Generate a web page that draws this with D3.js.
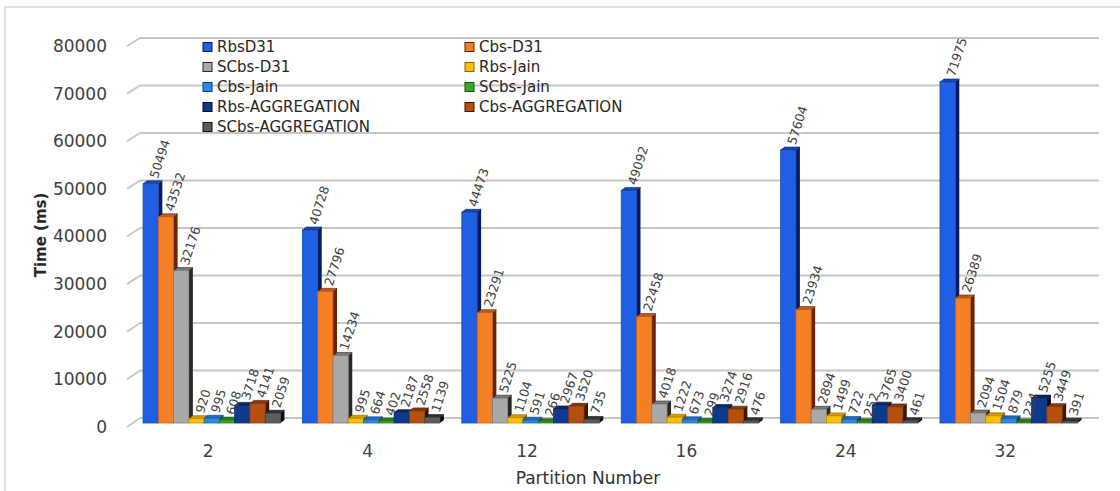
<!DOCTYPE html>
<html>
<head>
<meta charset="utf-8">
<script src="https://cdn.jsdelivr.net/npm/d3@7"></script>
<style>
  body { margin: 0; background: #fff; }
  text { font-family: "DejaVu Sans", sans-serif; }
</style>
</head>
<body>
<div class="chart"></div>
<script>
// partition counts on the x axis
const partitions = ["2", "4", "12", "16", "24", "32"]
const seriesNames = ["RbsD31", "Cbs-D31", "SCbs-D31", "Rbs-Jain", "Cbs-Jain", "SCbs-Jain",
                     "Rbs-AGGREGATION", "Cbs-AGGREGATION", "SCbs-AGGREGATION"]
// time (ms) per series, one value per partition
const rbsD31   = [50494, 40728, 44473, 49092, 57604, 71975]
const cbsD31   = [43532, 27796, 23291, 22458, 23934, 26389]
const scbsD31  = [32176, 14234, 5225, 4018, 2894, 2094]
const rbsJain  = [920, 995, 1104, 1222, 1499, 1504]
const cbsJain  = [995, 664, 591, 673, 722, 879]
const scbsJain = [608, 402, 266, 299, 252, 234]
const rbsAgg   = [3718, 2187, 2967, 3274, 3765, 5255]
const cbsAgg   = [4141, 2558, 3520, 2916, 3400, 3449]
const scbsAgg  = [2059, 1139, 735, 476, 461, 391]
const yTicks = [0, 10000, 20000, 30000, 40000, 50000, 60000, 70000, 80000]

const seriesValues = [rbsD31, cbsD31, scbsD31, rbsJain, cbsJain, scbsJain, rbsAgg, cbsAgg, scbsAgg]

// front / side / top colours for the 3d bars
const fronts = ["#1f5fe4", "#f57f25", "#a9a9a9", "#ffc000", "#2b8ae4", "#3aa822", "#0d3b8c", "#b5500f", "#5c5c5c"]
const sides  = ["#061a5c", "#6b2200", "#262626", "#8a6200", "#0c3c7c", "#145008", "#00091a", "#3d1500", "#0c0c0c"]
const tops   = ["#1848b4", "#c4581a", "#7a7a7a", "#d49c00", "#1d6cc2", "#2a8018", "#08296a", "#8a3a08", "#333333"]

const colourFront = d3.scaleOrdinal(seriesNames, fronts)
const colourSide = d3.scaleOrdinal(seriesNames, sides)
const colourTop = d3.scaleOrdinal(seriesNames, tops)

const width = 1120, height = 491
const depthX = 4, depthY = 3

const svg = d3.select(".chart").append("svg").attr("width", width).attr("height", height)

// outer chart border
svg.append("rect").attr("x", 5).attr("y", 7).attr("width", 1140).attr("height", 500)
   .attr("fill", "none").attr("stroke", "#d9d9d9").attr("stroke-width", 1.5)

// scales: front (labels), back wall (gridlines), bars (in between)
const yFront = d3.scaleLinear().domain([0, 80000]).range([427, 46])
const yBack = d3.scaleLinear().domain([0, 80000]).range([418, 38])
const yBar = d3.scaleLinear().domain([0, 80000]).range([423, 44])

const x0 = d3.scaleBand().domain(partitions).range([133.5, 1090]).paddingInner(0.119).paddingOuter(0.06)
const x1 = d3.scaleBand().domain(seriesNames).range([0, x0.bandwidth() - depthX + 1])

// gridlines with slanted floor edge
const grid = svg.append("g")
grid.selectAll(".slant").data(yTicks).enter().append("line")
    .attr("x1", 127).attr("x2", 140).attr("y1", d => yFront(d)).attr("y2", d => yBack(d))
    .attr("stroke", "#c6c6c6").attr("stroke-width", 2)
grid.selectAll(".wall").data(yTicks).enter().append("line")
    .attr("x1", 140).attr("x2", 1099).attr("y1", d => yBack(d)).attr("y2", d => yBack(d))
    .attr("stroke", "#c6c6c6").attr("stroke-width", 2)

// y axis labels
const yAxis = d3.axisLeft(yFront).tickValues(yTicks).tickSize(0).tickPadding(0).tickFormat(d3.format("d"))
svg.append("g").attr("transform", "translate(107,0)").call(yAxis)
   .call(g => g.select(".domain").remove())
   .selectAll("text").attr("font-size", 17).attr("fill", "#404040").attr("font-family", "DejaVu Sans")

// legend (drawn before bars, sits on the back wall)
const legend = svg.selectAll(".legend").data(seriesNames).enter().append("g")
    .attr("class", "legend")
    .attr("transform", (d, i) => `translate(${i % 2 == 0 ? 203 : 465},${47 + Math.floor(i / 2) * 20})`)
legend.append("rect").attr("x", 0).attr("y", -4.5).attr("width", 9).attr("height", 9)
      .attr("fill", d => colourFront(d)).attr("stroke", d => colourSide(d)).attr("stroke-width", 1)
legend.append("text").attr("x", 14).attr("dy", "0.36em").text(d => d)
      .attr("font-size", 15).attr("fill", "#262626")

// bars
const rows = []
partitions.forEach((p, gi) => {
    seriesNames.forEach((s, si) => rows.push({ partition: p, series: s, value: seriesValues[si][gi] }))
})

const bw = x1.bandwidth()
const bars = svg.append("g").selectAll("g").data(rows).enter().append("g")
    .attr("transform", d => `translate(${x0(d.partition) + x1(d.series)},0)`)

bars.append("path") // side face
    .attr("d", d => {
        const t = yBar(d.value), b = yBar(0)
        return `M${bw},${t} L${bw + depthX},${t - depthY} L${bw + depthX},${b - depthY} L${bw},${b} Z`
    })
    .attr("fill", d => colourSide(d.series))
bars.append("path") // top face
    .attr("d", d => {
        const t = yBar(d.value)
        return `M0,${t} L${depthX},${t - depthY} L${bw + depthX},${t - depthY} L${bw},${t} Z`
    })
    .attr("fill", d => colourTop(d.series)).attr("stroke", d => colourSide(d.series)).attr("stroke-width", 0.6)
bars.append("rect") // front face
    .attr("x", 0).attr("y", d => yBar(d.value)).attr("width", bw)
    .attr("height", d => yBar(0) - yBar(d.value))
    .attr("fill", d => colourFront(d.series))
    .attr("stroke", d => d3.color(colourFront(d.series)).darker(0.8)).attr("stroke-width", 0.8)

// value labels, tilted
svg.append("g").selectAll("text").data(rows).enter().append("text")
   .attr("transform", d => `translate(${x0(d.partition) + x1(d.series) + bw / 2 + 3},${yBar(d.value) - depthY - 3}) rotate(-72)`)
   .attr("dy", "0.35em").text(d => d.value)
   .attr("font-size", 12.5).attr("fill", "#404040")

// x labels
svg.append("g").selectAll("text").data(partitions).enter().append("text")
   .attr("x", d => x0(d) + x0.bandwidth() / 2 - 5).attr("y", 451).attr("dy", "0.35em")
   .attr("text-anchor", "middle").text(d => d)
   .attr("font-size", 17).attr("fill", "#404040")

// axis titles
svg.append("text").attr("x", 588).attr("y", 478).attr("dy", "0.35em").attr("text-anchor", "middle")
   .text("Partition Number").attr("font-size", 17).attr("fill", "#303030")
svg.append("text").attr("transform", "translate(41,235) rotate(-90)").attr("dy", "0.35em")
   .attr("text-anchor", "middle").text("Time (ms)").attr("font-size", 15).attr("font-weight", "bold").attr("fill", "#262626")
</script>
</body>
</html>
